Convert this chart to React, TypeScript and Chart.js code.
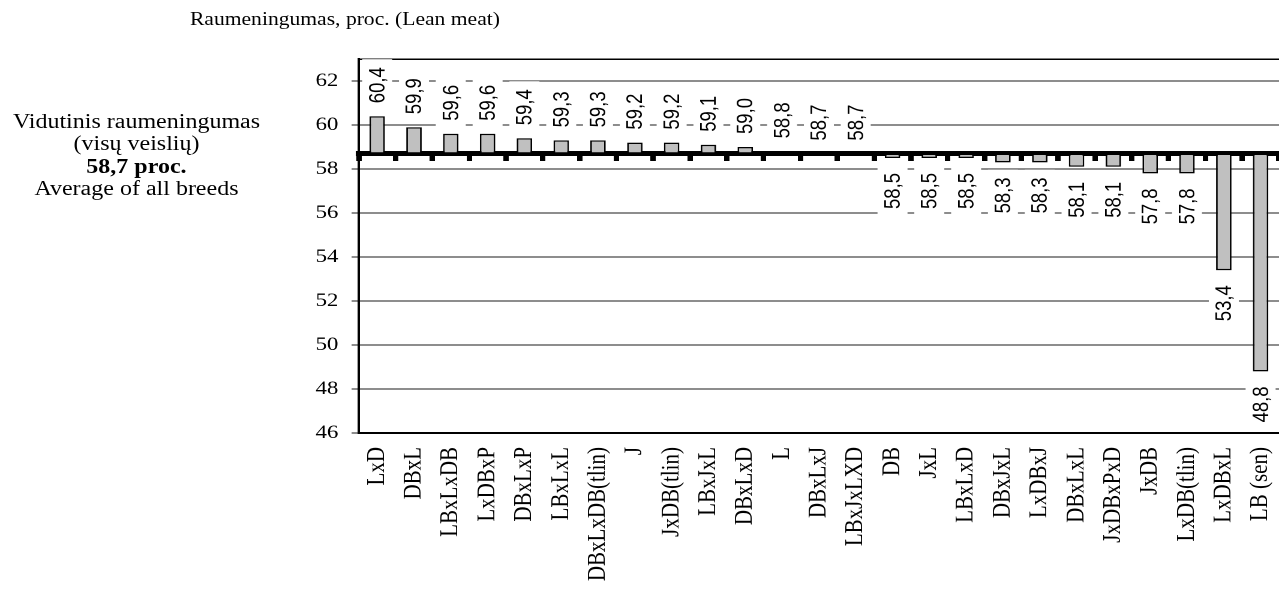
import { useEffect, useRef } from 'react';
import { Chart, registerables } from 'chart.js';

Chart.register(...registerables);

// Breeds and their lean meat share, sorted from highest to lowest
const BREEDS = [
  'LxD', 'DBxL', 'LBxLxDB', 'LxDBxP', 'DBxLxP', 'LBxLxL', 'DBxLxDB(tlin)', 'J',
  'JxDB(tlin)', 'LBxJxL', 'DBxLxD', 'L', 'DBxLxJ', 'LBxJxLXD', 'DB', 'JxL',
  'LBxLxD', 'DBxJxL', 'LxDBxJ', 'DBxLxL', 'JxDBxPxD', 'JxDB', 'LxDB(tlin)',
  'LxDBxL', 'LB (sen)',
];
const LEAN_MEAT = [
  60.4, 59.9, 59.6, 59.6, 59.4, 59.3, 59.3, 59.2, 59.2, 59.1, 59.0, 58.8, 58.7,
  58.7, 58.5, 58.5, 58.5, 58.3, 58.3, 58.1, 58.1, 57.8, 57.8, 53.4, 48.8,
];
// Average of all breeds: the bars grow up or down from this level
const AVERAGE = 58.7;
const Y_TICKS = [46, 48, 50, 52, 54, 56, 58, 60, 62];
const Y_MIN = 46;
const Y_MAX = 63;

const TITLE = 'Raumeningumas, proc. (Lean meat)';
const NOTE_LT = ['Vidutinis raumeningumas', '(visų veislių)'];
const NOTE_EN = 'Average of all breeds';

// The drawing is laid out on a narrower surface and widened to the page
const W = 1066;
const H = 591;
const STRETCH = 1279 / W;

const SERIF = '"Liberation Serif", "Times New Roman", serif';
const SANS = '"Liberation Sans", Arial, sans-serif';
const GRID = '#1a1a1a';

const fmt = (v: number) => v.toFixed(1).replace('.', ',');

// Rotated value labels on white boxes, above or below each bar
const valueLabels = {
  id: 'valueLabels',
  afterDatasetsDraw(chart: any) {
    const ctx = chart.ctx as CanvasRenderingContext2D;
    const meta = chart.getDatasetMeta(0);
    ctx.save();
    ctx.font = `18.5px ${SANS}`;
    meta.data.forEach((bar: any, i: number) => {
      const v = LEAN_MEAT[i];
      const { x, y, base } = bar.getProps(['x', 'y', 'base'], true);
      const text = fmt(v);
      const w = ctx.measureText(text).width;
      const above = v >= AVERAGE;
      const anchor = above ? Math.min(y, base) - 13 : Math.max(y, base) + 15;
      const startPad = 6;
      const endPad = 8;
      const boxH = 25;
      ctx.save();
      ctx.translate(x, anchor);
      ctx.rotate(-Math.PI / 2);
      ctx.fillStyle = '#fff';
      if (above) {
        ctx.fillRect(-startPad, -boxH / 2, w + startPad + endPad, boxH);
      } else {
        ctx.fillRect(-w - startPad, -boxH / 2, w + startPad + endPad, boxH);
      }
      ctx.fillStyle = '#000';
      ctx.textAlign = above ? 'left' : 'right';
      ctx.textBaseline = 'middle';
      ctx.fillText(text, 0, 1);
      ctx.restore();
    });
    ctx.restore();
  },
};

export default function App() {
  const canvasRef = useRef<HTMLCanvasElement | null>(null);

  useEffect(() => {
    const canvas = canvasRef.current;
    if (!canvas) return;
    const chart = new Chart(canvas, {
      type: 'bar',
      data: {
        labels: BREEDS,
        datasets: [
          {
            data: LEAN_MEAT,
            base: AVERAGE,
            backgroundColor: '#c0c0c0',
            borderColor: '#000',
            borderWidth: 1.4,
            borderSkipped: false,
            barPercentage: 0.42,
            categoryPercentage: 1,
          } as any,
        ],
      },
      options: {
        responsive: false,
        animation: false,
        devicePixelRatio: 2,
        layout: { padding: { left: 239, top: 59, right: 0, bottom: 0 } },
        plugins: {
          legend: { display: false },
          tooltip: { enabled: false },
          title: { display: false },
        },
        scales: {
          x: {
            type: 'category',
            position: 'bottom',
            offset: true,
            grid: { display: true, drawOnChartArea: false, drawTicks: false, offset: true },
            border: { display: true, color: '#000', width: 2 },
            ticks: {
              autoSkip: false,
              minRotation: 90,
              maxRotation: 90,
              padding: 14,
              color: '#000',
              font: { family: SERIF, size: 21 },
            },
            afterFit: (s: any) => {
              s.height = 158;
              s.paddingLeft = 0;
              s.paddingRight = 0;
            },
          },
          // Category axis crossing at the average, with its tick marks between bars
          xAvg: {
            type: 'category',
            axis: 'x',
            position: { y: AVERAGE },
            offset: true,
            z: 1,
            grid: {
              display: true,
              offset: true,
              drawOnChartArea: false,
              drawTicks: true,
              tickLength: 5,
              tickWidth: 4.5,
              tickColor: '#000',
              lineWidth: 4.5,
              color: '#000',
            },
            border: { display: true, color: '#000', width: 5 },
            ticks: { display: false },
            afterFit: (s: any) => {
              s.paddingLeft = 0;
              s.paddingRight = 0;
            },
          },
          y: {
            type: 'linear',
            min: Y_MIN,
            max: Y_MAX,
            afterBuildTicks: (s: any) => {
              s.ticks = [...Y_TICKS, Y_MAX].map((value) => ({ value }));
            },
            ticks: {
              callback: (v: any) => (v === Y_MAX ? '' : String(v)),
              color: '#000',
              padding: 11,
              font: { family: SERIF, size: 19 },
            },
            grid: {
              color: (c: any) => (c.tick && c.tick.value === Y_MAX ? '#000' : GRID),
              lineWidth: (c: any) => (c.tick && c.tick.value === Y_MAX ? 1.5 : 1),
              tickLength: 6,
              tickColor: (c: any) => (c.tick && c.tick.value === Y_MAX ? 'rgba(0,0,0,0)' : GRID),
            },
            border: { display: true, color: '#000', width: 2 },
            afterFit: (s: any) => {
              s.width = 60;
              s.paddingTop = 0;
              s.paddingBottom = 0;
            },
          },
        } as any,
      },
      plugins: [valueLabels],
    });
    return () => chart.destroy();
  }, []);

  return (
    <div
      style={{
        position: 'absolute',
        left: 0,
        top: 0,
        width: W,
        height: H,
        transform: `scaleX(${STRETCH})`,
        transformOrigin: '0 0',
        background: '#fff',
      }}
    >
      <canvas ref={canvasRef} width={W} height={H} style={{ position: 'absolute', left: 0, top: 0 }} />
      <div
        style={{
          position: 'absolute',
          left: 158.3,
          top: 9.4,
          fontFamily: SERIF,
          fontSize: 18,
          lineHeight: '20px',
          whiteSpace: 'nowrap',
          color: '#000',
        }}
      >
        {TITLE}
      </div>
      <div
        style={{
          position: 'absolute',
          left: 0,
          top: 110,
          width: 227.5,
          textAlign: 'center',
          fontFamily: SERIF,
          fontSize: 20,
          lineHeight: '22.4px',
          whiteSpace: 'nowrap',
          color: '#000',
        }}
      >
        {NOTE_LT.map((line) => (
          <div key={line}>{line}</div>
        ))}
        <div style={{ fontWeight: 'bold' }}>{fmt(AVERAGE)} proc.</div>
        <div>{NOTE_EN}</div>
      </div>
    </div>
  );
}
